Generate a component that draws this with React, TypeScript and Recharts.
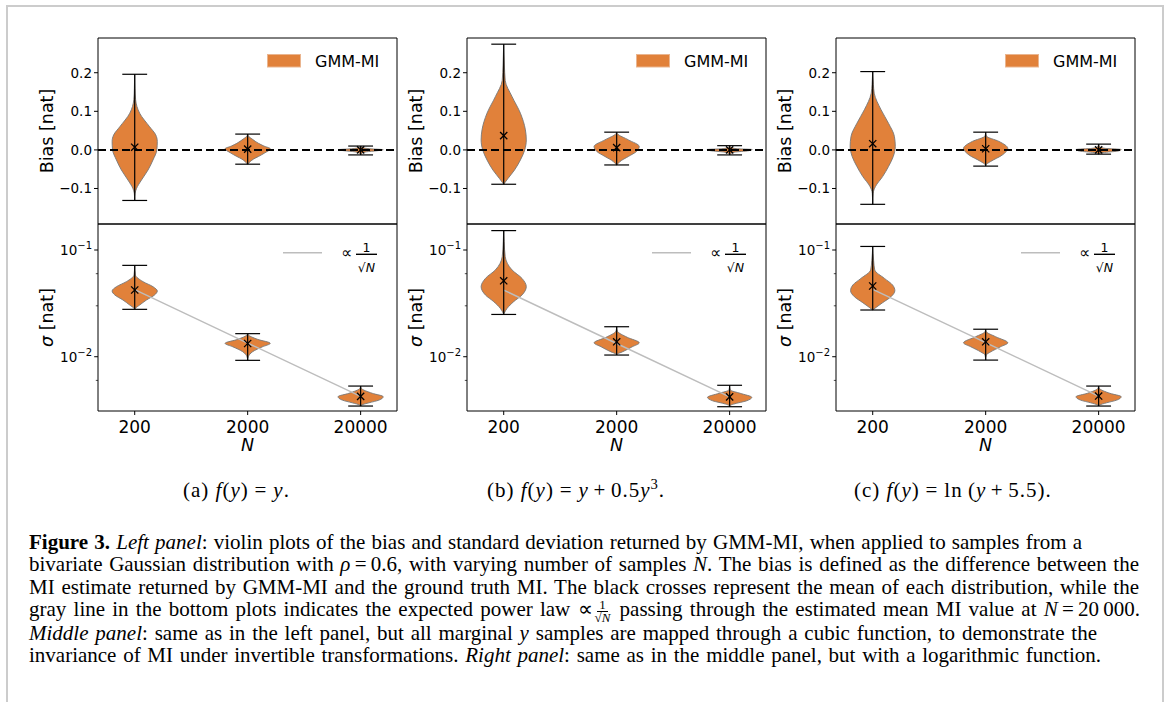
import React from "react";
import {
  ComposedChart,
  Area,
  Line,
  Scatter,
  XAxis,
  YAxis,
  ReferenceLine,
  Legend,
} from "recharts";

// x axis: violins sit at positions 1, 2, 3
const sampleSizes = ["200", "2000", "20000"];
const positions = [1, 2, 3];

const biasTicks = [-0.1, 0, 0.1, 0.2];
const sigmaMajorTicks = [0.01, 0.1];
const sigmaMinorTicks = [
  0.004, 0.005, 0.006, 0.007, 0.008, 0.009, 0.02, 0.03, 0.04, 0.05, 0.06, 0.07, 0.08, 0.09,
];

// violin outlines as [value, relative density]
type Shape = number[][];

// (a) f(y) = y
const biasShapesA: Shape[] = [
  [[0.196, 0], [0.16, 0.015], [0.13, 0.04], [0.095, 0.22], [0.06, 0.66], [0.039, 0.93], [0.022, 1], [0, 0.98], [-0.026, 0.81], [-0.052, 0.59], [-0.078, 0.3], [-0.1, 0.08], [-0.112, 0.02], [-0.131, 0]],
  [[0.041, 0], [0.036, 0.03], [0.028, 0.2], [0.017, 0.48], [0.01, 0.72], [0.003, 1], [-0.008, 0.75], [-0.017, 0.48], [-0.024, 0.25], [-0.03, 0.12], [-0.037, 0]],
  [[0.01, 0], [0.006, 0.08], [0.003, 0.4], [0.0005, 1], [-0.002, 0.75], [-0.005, 0.25], [-0.009, 0.05], [-0.013, 0]],
];
const biasMeansA = [0.007, 0.002, 0.0];
const biasMinsA = [-0.131, -0.037, -0.013];
const biasMaxsA = [0.196, 0.041, 0.01];

const sigmaShapesA: Shape[] = [
  [[0.0718, 0], [0.0584, 0.03], [0.0505, 0.37], [0.0453, 0.81], [0.0413, 1], [0.0379, 0.88], [0.034, 0.52], [0.0305, 0.22], [0.0284, 0.03], [0.0278, 0]],
  [[0.01645, 0], [0.016, 0.03], [0.01455, 0.44], [0.01334, 1], [0.0124, 0.66], [0.01115, 0.22], [0.01, 0.03], [0.00925, 0]],
  [[0.00531, 0], [0.00506, 0.03], [0.00454, 0.52], [0.00422, 1], [0.00392, 0.81], [0.0037, 0.37], [0.00353, 0.05], [0.00345, 0]],
];
const sigmaMeansA = [0.0422, 0.0133, 0.00425];
const sigmaMinsA = [0.0278, 0.00925, 0.00345];
const sigmaMaxsA = [0.0718, 0.01645, 0.00531];
const powerLawA = [0.0425, 0.01344, 0.00425];

// (b) f(y) = y + 0.5y^3
const biasShapesB: Shape[] = [
  [[0.274, 0], [0.22, 0.03], [0.18, 0.066], [0.138, 0.37], [0.095, 0.74], [0.052, 0.96], [0.026, 1], [0, 0.93], [-0.026, 0.74], [-0.052, 0.48], [-0.074, 0.19], [-0.085, 0.05], [-0.089, 0]],
  [[0.046, 0], [0.042, 0.03], [0.026, 0.52], [0.009, 1], [-0.004, 0.88], [-0.017, 0.52], [-0.03, 0.15], [-0.035, 0.07], [-0.039, 0]],
  [[0.011, 0], [0.006, 0.08], [0.003, 0.35], [0.001, 1], [-0.002, 0.85], [-0.006, 0.2], [-0.01, 0.04], [-0.013, 0]],
];
const biasMeansB = [0.037, 0.006, 0.0];
const biasMinsB = [-0.089, -0.039, -0.013];
const biasMaxsB = [0.274, 0.046, 0.011];

const sigmaShapesB: Shape[] = [
  [[0.152, 0], [0.12, 0.02], [0.0866, 0.066], [0.065, 0.37], [0.0542, 0.81], [0.0453, 1], [0.0379, 0.81], [0.0328, 0.44], [0.0284, 0.15], [0.0255, 0.02], [0.0249, 0]],
  [[0.0191, 0], [0.0174, 0.03], [0.0152, 0.47], [0.0135, 1], [0.0124, 0.69], [0.0111, 0.25], [0.0106, 0.03], [0.01037, 0]],
  [[0.0054, 0], [0.00488, 0.03], [0.00454, 0.47], [0.00416, 0.98], [0.00387, 0.76], [0.0036, 0.18], [0.0035, 0.03], [0.0034, 0]],
];
const sigmaMeansB = [0.0515, 0.0138, 0.00421];
const sigmaMinsB = [0.0249, 0.01037, 0.0034];
const sigmaMaxsB = [0.152, 0.0191, 0.0054];
const powerLawB = [0.0421, 0.0133, 0.00421];

// (c) f(y) = ln(y + 5.5)
const biasShapesC: Shape[] = [
  [[0.203, 0], [0.17, 0.03], [0.147, 0.066], [0.104, 0.37], [0.069, 0.7], [0.035, 0.96], [0.009, 1], [-0.017, 0.91], [-0.043, 0.7], [-0.069, 0.44], [-0.095, 0.12], [-0.112, 0.02], [-0.141, 0]],
  [[0.046, 0], [0.036, 0.03], [0.022, 0.59], [0.004, 0.98], [-0.013, 0.74], [-0.03, 0.22], [-0.039, 0.01], [-0.042, 0]],
  [[0.015, 0], [0.008, 0.05], [0.004, 0.3], [0.001, 1], [-0.003, 0.85], [-0.007, 0.2], [-0.011, 0]],
];
const biasMeansC = [0.016, 0.003, 0.0];
const biasMinsC = [-0.141, -0.042, -0.011];
const biasMaxsC = [0.203, 0.046, 0.015];

const sigmaShapesC: Shape[] = [
  [[0.108, 0], [0.08, 0.04], [0.065, 0.09], [0.0542, 0.52], [0.047, 0.88], [0.0416, 0.98], [0.0365, 0.81], [0.0321, 0.44], [0.029, 0.15], [0.0274, 0]],
  [[0.0181, 0], [0.01715, 0.03], [0.0154, 0.44], [0.0135, 0.98], [0.0124, 0.66], [0.0111, 0.22], [0.0104, 0.03], [0.0093, 0]],
  [[0.00531, 0], [0.00506, 0.03], [0.00454, 0.5], [0.00422, 1], [0.00392, 0.8], [0.0037, 0.35], [0.00353, 0.05], [0.00345, 0]],
];
const sigmaMeansC = [0.046, 0.0138, 0.00428];
const sigmaMinsC = [0.0274, 0.0093, 0.00345];
const sigmaMaxsC = [0.108, 0.0181, 0.00531];
const powerLawC = [0.0428, 0.01353, 0.00428];

// look & layout
const FONT = "'DejaVu Sans', sans-serif";
const SERIF = "'Liberation Serif', 'Times New Roman', serif";
const ORANGE = "#e1813a";
const EDGE = "#777777";
const GRAY_LINE = "#bdbdbd";
const VIOLIN_HALF = 0.2;
const CAP_HALF = 0.11;
const X_DOMAIN = [0.675, 3.322];
const BIAS_DOMAIN = [-0.192, 0.29];
const SIGMA_DOMAIN = [0.0031, 0.1753];

const AXIS_W = 70;
const PLOT_W = 299;
const RIGHT_PAD = 6;
const TOP_PAD = 4;
const TICK_SIZE = 4;
const TICK_GAP = 2;
const BIAS_TOP = 38;
const SPLIT_Y = 224;
const SIGMA_BOTTOM = 411;
const PLOT_LEFTS = [98, 467, 836];

const violinRows = (shape: Shape, pos: number) =>
  shape.map(([v, d]) => ({ v, band: [pos - d * VIOLIN_HALF, pos + d * VIOLIN_HALF] }));

const fmtBias = (v: number) => (v === 0 ? "0.0" : v.toFixed(1).replace("-", "\u2212"));

const CrossMark = (p: any) => {
  const s = 3.6;
  return (
    <g stroke="#000" strokeWidth={1.3}>
      <line x1={p.cx - s} y1={p.cy - s} x2={p.cx + s} y2={p.cy + s} />
      <line x1={p.cx - s} y1={p.cy + s} x2={p.cx + s} y2={p.cy - s} />
    </g>
  );
};

const SigmaTick = (p: any) => {
  const v = p.payload.value;
  const major = sigmaMajorTicks.includes(v);
  const ax = p.x + TICK_SIZE + TICK_GAP;
  const len = major ? 3.8 : 2.2;
  const exp = Math.round(Math.log10(v));
  return (
    <g>
      <line x1={ax - len} x2={ax} y1={p.y} y2={p.y} stroke="#000" strokeWidth={major ? 1 : 0.7} />
      {major && (
        <text x={p.x} y={p.y + 4.9} textAnchor="end" fontSize={13.5} fontFamily={FONT} fill="#000">
          10
          <tspan dy={-5.5} fontSize={10}>{"\u2212" + Math.abs(exp)}</tspan>
        </text>
      )}
    </g>
  );
};

const yTitle = (content: React.ReactNode) => (props: any) => {
  const vb = props.viewBox;
  const x = vb.x + vb.width - 51;
  const y = vb.y + vb.height / 2;
  return (
    <text
      x={x}
      y={y}
      transform={`rotate(-90 ${x} ${y})`}
      textAnchor="middle"
      dominantBaseline="central"
      fontSize={17.5}
      fontFamily={FONT}
      fill="#000"
    >
      {content}
    </text>
  );
};

const xTitle = (props: any) => {
  const vb = props.viewBox;
  return (
    <text x={vb.x + vb.width / 2} y={vb.y + 39.5} textAnchor="middle" fontSize={17.5} fontFamily={FONT} fontStyle="italic" fill="#000">
      N
    </text>
  );
};

const BiasLegend = () => (
  <svg width={130} height={24} style={{ display: "block", overflow: "visible" }}>
    <rect x={0.5} y={0.5} width={33} height={12.5} fill={ORANGE} stroke="#eab58f" />
    <text x={48} y={12.7} fontSize={16} fontFamily={FONT} fill="#000">GMM-MI</text>
  </svg>
);

const SigmaLegend = () => (
  <svg width={110} height={34} style={{ display: "block", overflow: "visible" }}>
    <line x1={0} x2={39} y1={8.7} y2={8.7} stroke={GRAY_LINE} strokeWidth={1.5} />
    <text x={58} y={13.5} fontSize={15.5} fontFamily={FONT} fill="#000">{"\u221d"}</text>
    <text x={83.5} y={7.9} fontSize={12.5} fontFamily={FONT} textAnchor="middle" fill="#000">1</text>
    <line x1={73} x2={94} y1={10.3} y2={10.3} stroke="#000" strokeWidth={1.4} />
    <text x={83.5} y={27.7} fontSize={12.5} fontFamily={FONT} textAnchor="middle" fill="#000">
      {"\u221a"}<tspan fontStyle="italic">N</tspan>
    </text>
  </svg>
);

interface ViolinProps {
  kind: "bias" | "sigma";
  left: number;
  shapes: Shape[];
  means: number[];
  mins: number[];
  maxs: number[];
  law?: number[];
}

function ViolinPanel({ kind, left, shapes, means, mins, maxs, law }: ViolinProps) {
  const bias = kind === "bias";
  const plotTop = bias ? BIAS_TOP : SPLIT_Y;
  const plotH = bias ? SPLIT_Y - BIAS_TOP : SIGMA_BOTTOM - SPLIT_Y;
  const xAxisH = bias ? 0 : 46;
  const bottomPad = bias ? 2 : 0;
  const width = AXIS_W + PLOT_W + RIGHT_PAD;
  const height = TOP_PAD + plotH + xAxisH + bottomPad;
  const yDomain = bias ? BIAS_DOMAIN : SIGMA_DOMAIN;
  const meanRows = positions.map((x, i) => ({ x, v: means[i] }));
  const lawRows = law ? positions.map((x, i) => ({ x, v: law[i] })) : [];
  const frame = { stroke: "#000", strokeWidth: 1, ifOverflow: "visible" as const };

  return (
    <div style={{ position: "absolute", left: left - AXIS_W, top: plotTop - TOP_PAD }}>
      <ComposedChart
        layout="vertical"
        width={width}
        height={height}
        margin={{ top: TOP_PAD, right: RIGHT_PAD, bottom: bottomPad, left: 0 }}
      >
        <XAxis
          type="number"
          dataKey="x"
          domain={X_DOMAIN}
          allowDataOverflow
          ticks={positions}
          tickFormatter={(v: number) => sampleSizes[positions.indexOf(v)]}
          height={xAxisH}
          hide={bias}
          axisLine={{ stroke: "#000" }}
          tick={{ fontSize: 17, fill: "#000", fontFamily: FONT }}
          tickLine={{ stroke: "#000" }}
          tickSize={TICK_SIZE}
          tickMargin={6}
          label={bias ? undefined : xTitle}
        />
        {bias ? (
          <YAxis
            type="number"
            dataKey="v"
            domain={BIAS_DOMAIN}
            reversed
            allowDataOverflow
            ticks={biasTicks}
            tickFormatter={fmtBias}
            width={AXIS_W}
            axisLine={{ stroke: "#000" }}
            tickLine={{ stroke: "#000" }}
            tickSize={TICK_SIZE}
            tickMargin={TICK_GAP}
            tick={{ fontSize: 13.5, fill: "#000", fontFamily: FONT }}
            label={yTitle("Bias [nat]")}
          />
        ) : (
          <YAxis
            type="number"
            dataKey="v"
            scale="log"
            domain={SIGMA_DOMAIN}
            reversed
            allowDataOverflow
            ticks={[...sigmaMinorTicks, ...sigmaMajorTicks].sort((a, b) => a - b)}
            width={AXIS_W}
            axisLine={{ stroke: "#000" }}
            tickLine={false}
            tickSize={TICK_SIZE}
            tickMargin={TICK_GAP}
            tick={SigmaTick}
            label={yTitle(
              <>
                <tspan fontStyle="italic">{"\u03c3"}</tspan> [nat]
              </>
            )}
          />
        )}
        {shapes.map((s, i) => (
          <Area
            key={`violin-${i}`}
            data={violinRows(s, positions[i])}
            dataKey="band"
            type="monotone"
            fill={ORANGE}
            fillOpacity={1}
            stroke={EDGE}
            strokeWidth={0.9}
            dot={false}
            activeDot={false}
            isAnimationActive={false}
          />
        ))}
        {bias && <ReferenceLine y={0} stroke="#000" strokeWidth={2} strokeDasharray="8 4" />}
        {!bias && (
          <Line
            data={lawRows}
            dataKey="x"
            stroke={GRAY_LINE}
            strokeWidth={1.4}
            dot={false}
            activeDot={false}
            isAnimationActive={false}
          />
        )}
        {positions.map((p, i) => (
          <ReferenceLine key={`w-${i}`} segment={[{ x: p, y: mins[i] }, { x: p, y: maxs[i] }]} stroke="#000" strokeWidth={1.2} />
        ))}
        {positions.map((p, i) => (
          <ReferenceLine key={`ct-${i}`} segment={[{ x: p - CAP_HALF, y: maxs[i] }, { x: p + CAP_HALF, y: maxs[i] }]} stroke="#000" strokeWidth={1.2} />
        ))}
        {positions.map((p, i) => (
          <ReferenceLine key={`cb-${i}`} segment={[{ x: p - CAP_HALF, y: mins[i] }, { x: p + CAP_HALF, y: mins[i] }]} stroke="#000" strokeWidth={1.2} />
        ))}
        <Scatter data={meanRows} shape={(p: any) => <CrossMark {...p} />} isAnimationActive={false} />
        {/* axes frame: top, right and (for the upper panel) bottom edge */}
        <ReferenceLine y={yDomain[1]} {...frame} />
        <ReferenceLine x={X_DOMAIN[1]} {...frame} />
        {bias && <ReferenceLine y={yDomain[0]} {...frame} />}
        <Legend
          layout="horizontal"
          verticalAlign="middle"
          align="center"
          content={bias ? BiasLegend : SigmaLegend}
          wrapperStyle={
            bias
              ? { left: AXIS_W + PLOT_W - 130, top: TOP_PAD + 16, width: 130, height: 24 }
              : { left: AXIS_W + PLOT_W - 114, top: TOP_PAD + 20, width: 110, height: 34 }
          }
        />
      </ComposedChart>
    </div>
  );
}

const panels = [
  { bias: [biasShapesA, biasMeansA, biasMinsA, biasMaxsA], sigma: [sigmaShapesA, sigmaMeansA, sigmaMinsA, sigmaMaxsA], law: powerLawA },
  { bias: [biasShapesB, biasMeansB, biasMinsB, biasMaxsB], sigma: [sigmaShapesB, sigmaMeansB, sigmaMinsB, sigmaMaxsB], law: powerLawB },
  { bias: [biasShapesC, biasMeansC, biasMinsC, biasMaxsC], sigma: [sigmaShapesC, sigmaMeansC, sigmaMinsC, sigmaMaxsC], law: powerLawC },
];

const op = (s: string, m: string) => <span style={{ margin: `0 ${m}` }}>{s}</span>;

const subCaptions = [
  { left: 183, body: <>(a) <i>f</i>(<i>y</i>){op("=", "0.28em")}<i>y</i>.</> },
  {
    left: 487,
    body: <>(b) <i>f</i>(<i>y</i>){op("=", "0.28em")}<i>y</i>{op("+", "0.22em")}0.5<i>y</i><sup style={{ fontSize: "0.7em", lineHeight: 0 }}>3</sup>.</>,
  },
  { left: 854, body: <>(c) <i>f</i>(<i>y</i>){op("=", "0.28em")}ln{"\u2009"}(<i>y</i>{op("+", "0.22em")}5.5).</> },
];

const Frac = () => (
  <span
    style={{
      display: "inline-flex",
      flexDirection: "column",
      alignItems: "center",
      verticalAlign: "middle",
      fontSize: 13,
      lineHeight: "12px",
      margin: "0 2px",
    }}
  >
    <span style={{ borderBottom: "1px solid #000", padding: "0 2px" }}>1</span>
    <span>{"\u221a"}<i>N</i></span>
  </span>
);

const captionLines = [
  { end: 1082, base: 549.5, body: <><b>Figure 3.</b> <i>Left panel</i>: violin plots of the bias and standard deviation returned by GMM-MI, when applied to samples from a</> },
  { end: 1139, base: 572, body: <>bivariate Gaussian distribution with <i>{"\u03c1"}</i>{"\u2009=\u2009"}0.6, with varying number of samples <i>N</i>. The bias is defined as the difference between the</> },
  { end: 1139, base: 594.5, body: <>MI estimate returned by GMM-MI and the ground truth MI. The black crosses represent the mean of each distribution, while the</> },
  { end: 1140, base: 617, body: <>gray line in the bottom plots indicates the expected power law {"\u221d"}<Frac /> passing through the estimated mean MI value at <i>N</i>{"\u2009=\u2009"}20{"\u2009"}000.</> },
  { end: 1097, base: 640.5, body: <><i>Middle panel</i>: same as in the left panel, but all marginal <i>y</i> samples are mapped through a cubic function, to demonstrate the</> },
  { end: 1101, base: 663, body: <>invariance of MI under invertible transformations. <i>Right panel</i>: same as in the middle panel, but with a logarithmic function.</> },
];

export default function App() {
  return (
    <div style={{ position: "absolute", left: 0, top: 0, width: 1167, height: 702, overflow: "hidden", background: "#fff" }}>
      <div
        style={{
          position: "absolute",
          left: 6,
          top: 5,
          width: 1158,
          height: 800,
          border: "2px solid #cccccc",
          boxSizing: "border-box",
        }}
      />
      {panels.map((pn, k) => (
        <React.Fragment key={k}>
          <ViolinPanel
            kind="bias"
            left={PLOT_LEFTS[k]}
            shapes={pn.bias[0] as Shape[]}
            means={pn.bias[1] as number[]}
            mins={pn.bias[2] as number[]}
            maxs={pn.bias[3] as number[]}
          />
          <ViolinPanel
            kind="sigma"
            left={PLOT_LEFTS[k]}
            shapes={pn.sigma[0] as Shape[]}
            means={pn.sigma[1] as number[]}
            mins={pn.sigma[2] as number[]}
            maxs={pn.sigma[3] as number[]}
            law={pn.law}
          />
        </React.Fragment>
      ))}
      {subCaptions.map((c, i) => (
        <div
          key={i}
          style={{
            position: "absolute",
            left: c.left,
            top: 480.4,
            fontFamily: SERIF,
            fontSize: 21,
            lineHeight: "21px",
            letterSpacing: "1px",
            whiteSpace: "nowrap",
            color: "#000",
          }}
        >
          {c.body}
        </div>
      ))}
      {captionLines.map((l, i) => (
        <div
          key={i}
          style={{
            position: "absolute",
            left: 29,
            top: l.base - 18.6,
            width: l.end - 29,
            fontFamily: SERIF,
            fontSize: 21,
            lineHeight: "23px",
            textAlign: "justify",
            textAlignLast: "justify",
            color: "#000",
          }}
        >
          {l.body}
        </div>
      ))}
    </div>
  );
}
